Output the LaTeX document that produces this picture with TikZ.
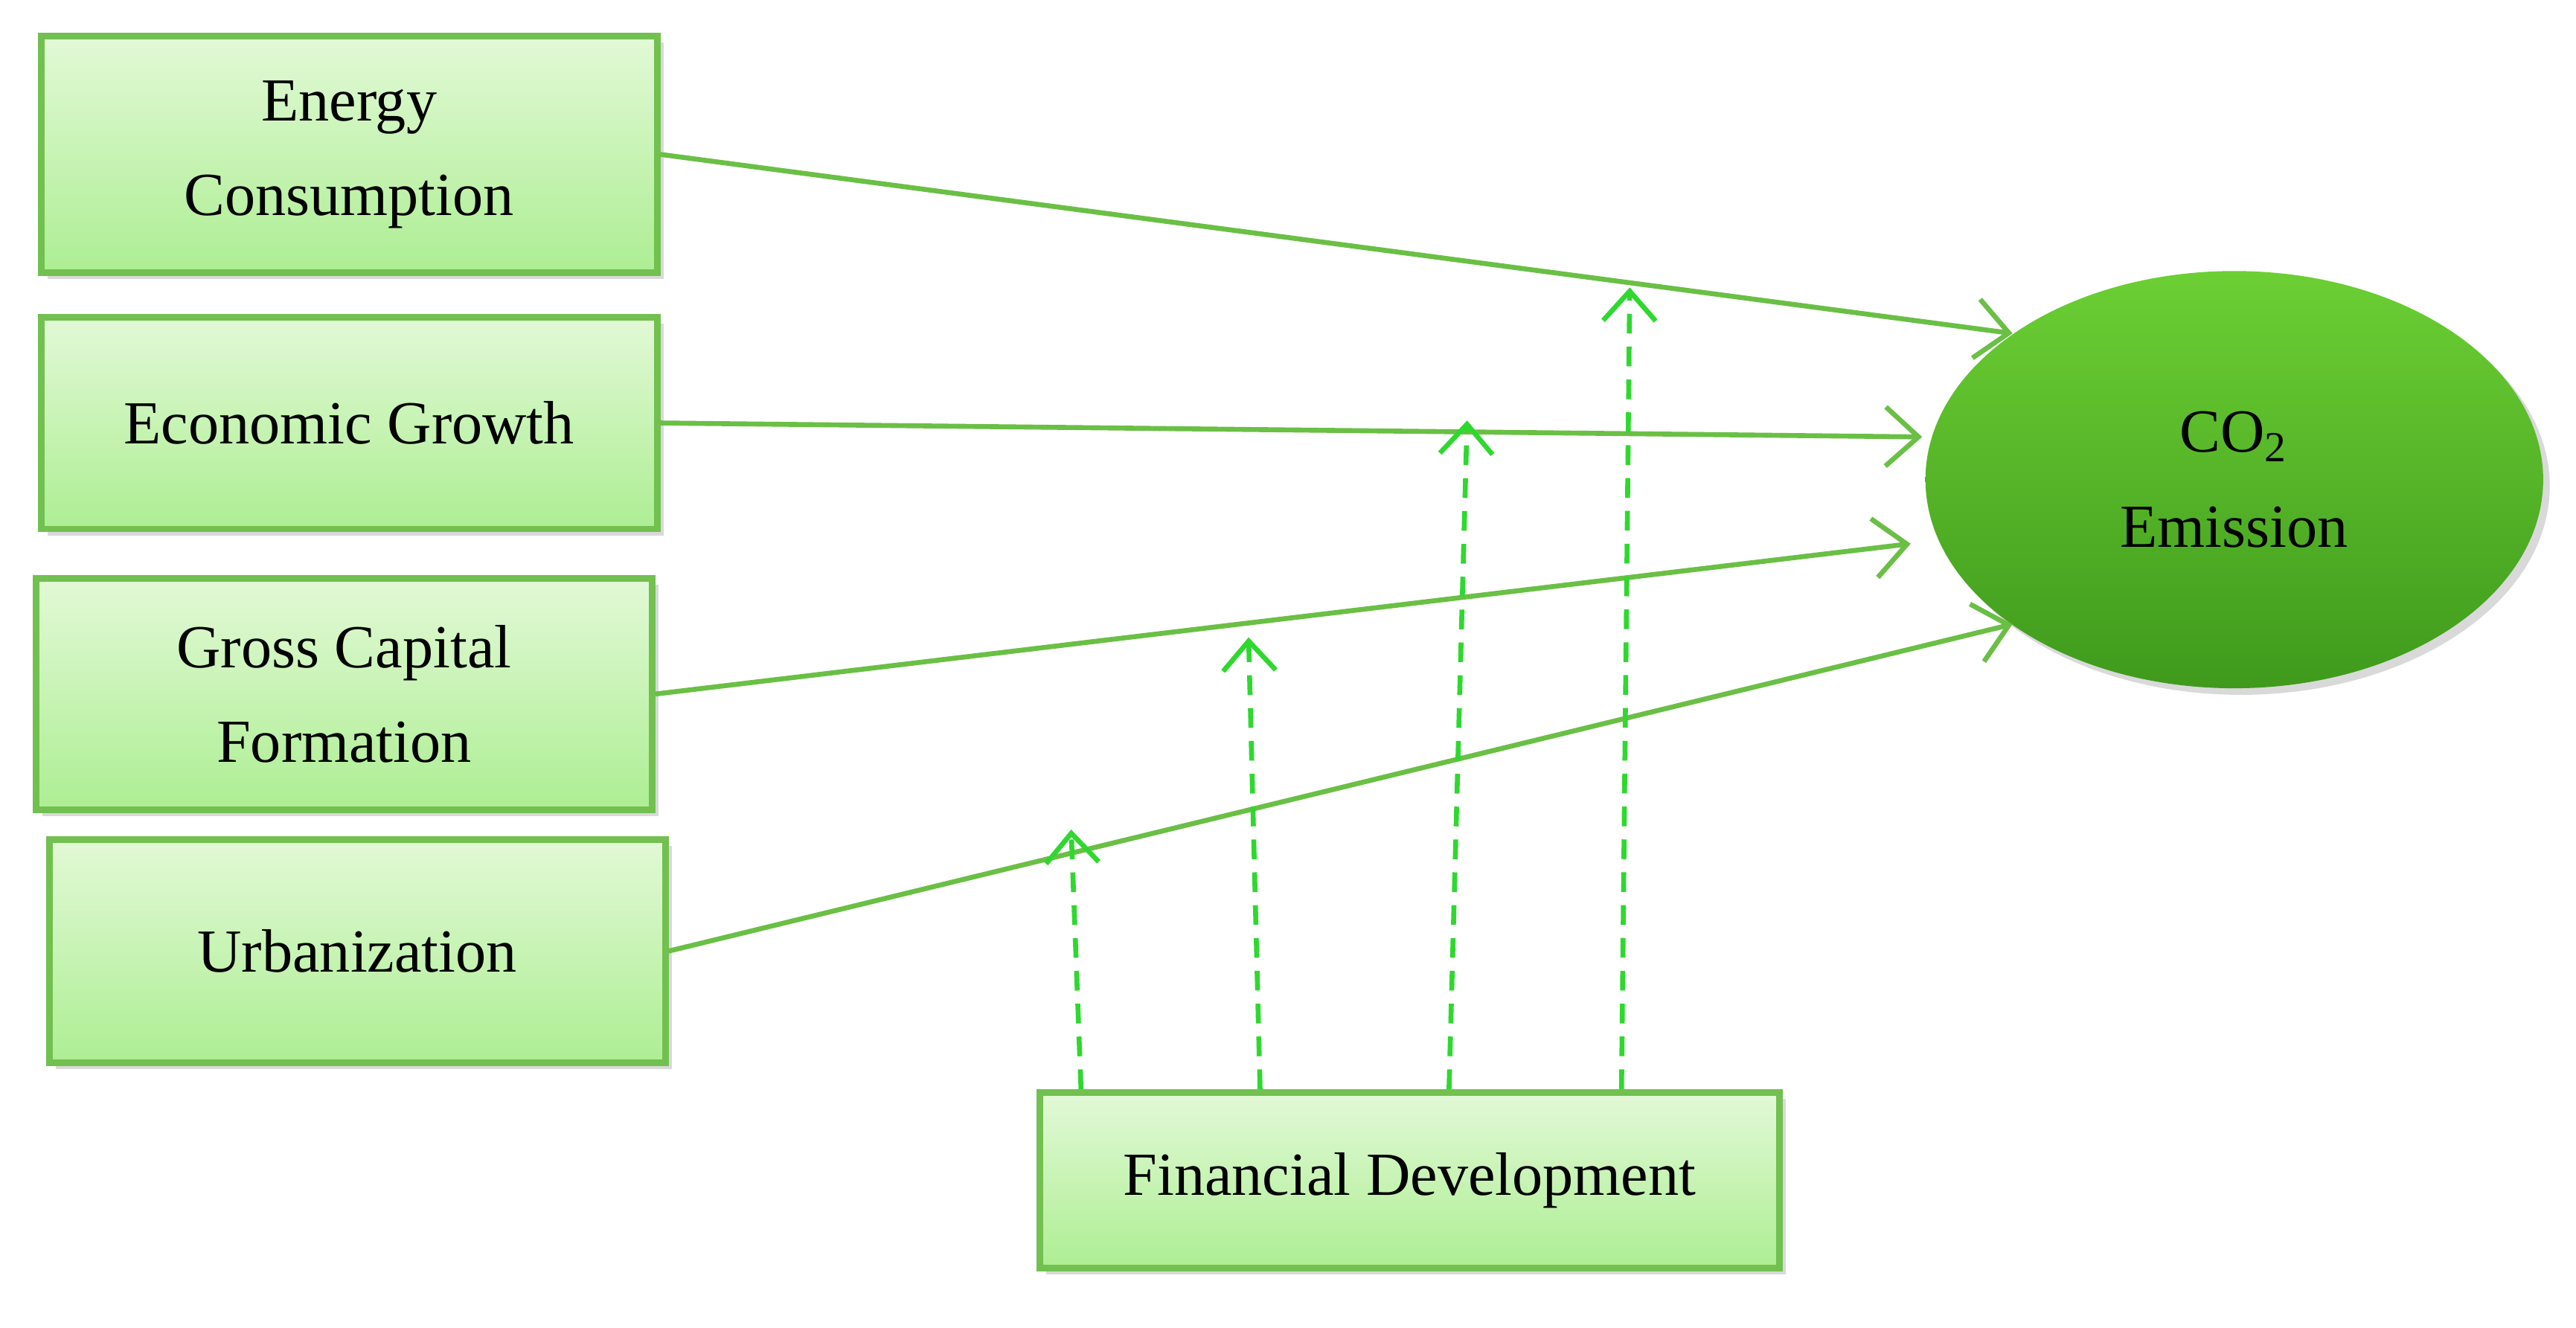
\documentclass[tikz,border=0pt]{standalone}
\usepackage{fontspec}
\setmainfont{Liberation Serif}
\usetikzlibrary{arrows.meta,shadows,shapes.geometric}
\definecolor{boxtop}{HTML}{E2F9D6}
\definecolor{boxbot}{HTML}{ADEE93}
\definecolor{boxline}{HTML}{72C050}
\definecolor{ovaltop}{HTML}{6CCF34}
\definecolor{ovalbot}{HTML}{3F9A1C}
\definecolor{mainline}{HTML}{6ABF45}
\definecolor{modline}{HTML}{2FD82F}
\begin{document}
\begin{tikzpicture}
        [x=1cm,y=1cm,every node/.style={font=\fontsize{10.6}{13}\selectfont,align=center},
        box/.style={draw=boxline,line width=0.4mm,top color=boxtop,bottom color=boxbot,
          drop shadow={shadow xshift=0.4mm,shadow yshift=-0.4mm,opacity=0.3},inner sep=0},
        main/.style={draw=mainline,line width=0.3mm,-{Straight Barb[length=2mm,width=3.6mm]}},
        mod/.style={draw=modline,line width=0.3mm,dashed,dash pattern=on 1.2mm off 0.8mm,-{Straight Barb[length=1.8mm,width=3.2mm]}}]

        \useasboundingbox (0, 0) rectangle (15.68, 8.08);

        \node[box,minimum width=3.75cm,minimum height=1.44cm] (ec) at (2.125, 7.14) {Energy\\[0.7ex]Consumption};
        \node[box,minimum width=3.75cm,minimum height=1.29cm] (eg) at (2.125, 5.505) {Economic Growth};
        \node[box,minimum width=3.75cm,minimum height=1.41cm] (gcf) at (2.095, 3.855) {Gross Capital\\[0.7ex]Formation};
        \node[box,minimum width=3.75cm,minimum height=1.36cm] (urb) at (2.175, 2.29) {Urbanization};
        \node[box,minimum width=4.5cm,minimum height=1.07cm] (fd) at (8.58, 0.895) {Financial Development};
        \node[ellipse,draw=none,top color=ovaltop,bottom color=ovalbot,minimum width=3.76cm,minimum height=2.54cm,
          drop shadow={shadow xshift=0.4mm,shadow yshift=-0.4mm,opacity=0.3}] (co2) at (13.6, 5.16) {CO\textsubscript{2}\\[0.7ex]Emission};

        \coordinate (t1) at (6.52, 3.03);
        \coordinate (t2) at (7.60, 4.20);
        \coordinate (t3) at (8.93, 5.52);
        \coordinate (t4) at (9.92, 6.33);

        \draw[main] (ec.east) -- (12.25, 6.05);
        \draw[main] (eg.east) -- (11.70, 5.42);
        \draw[main] (gcf.east) -- (11.63, 4.77);
        \draw[main] (urb.east) -- (12.25, 4.28);

        \draw[mod] (fd.north -| 6.58, 0) -- (t1);
        \draw[mod] (fd.north -| 7.67, 0) -- (t2);
        \draw[mod] (fd.north -| 8.82, 0) -- (t3);
        \draw[mod] (fd.north -| 9.87, 0) -- (t4);
      \end{tikzpicture}
\end{document}
